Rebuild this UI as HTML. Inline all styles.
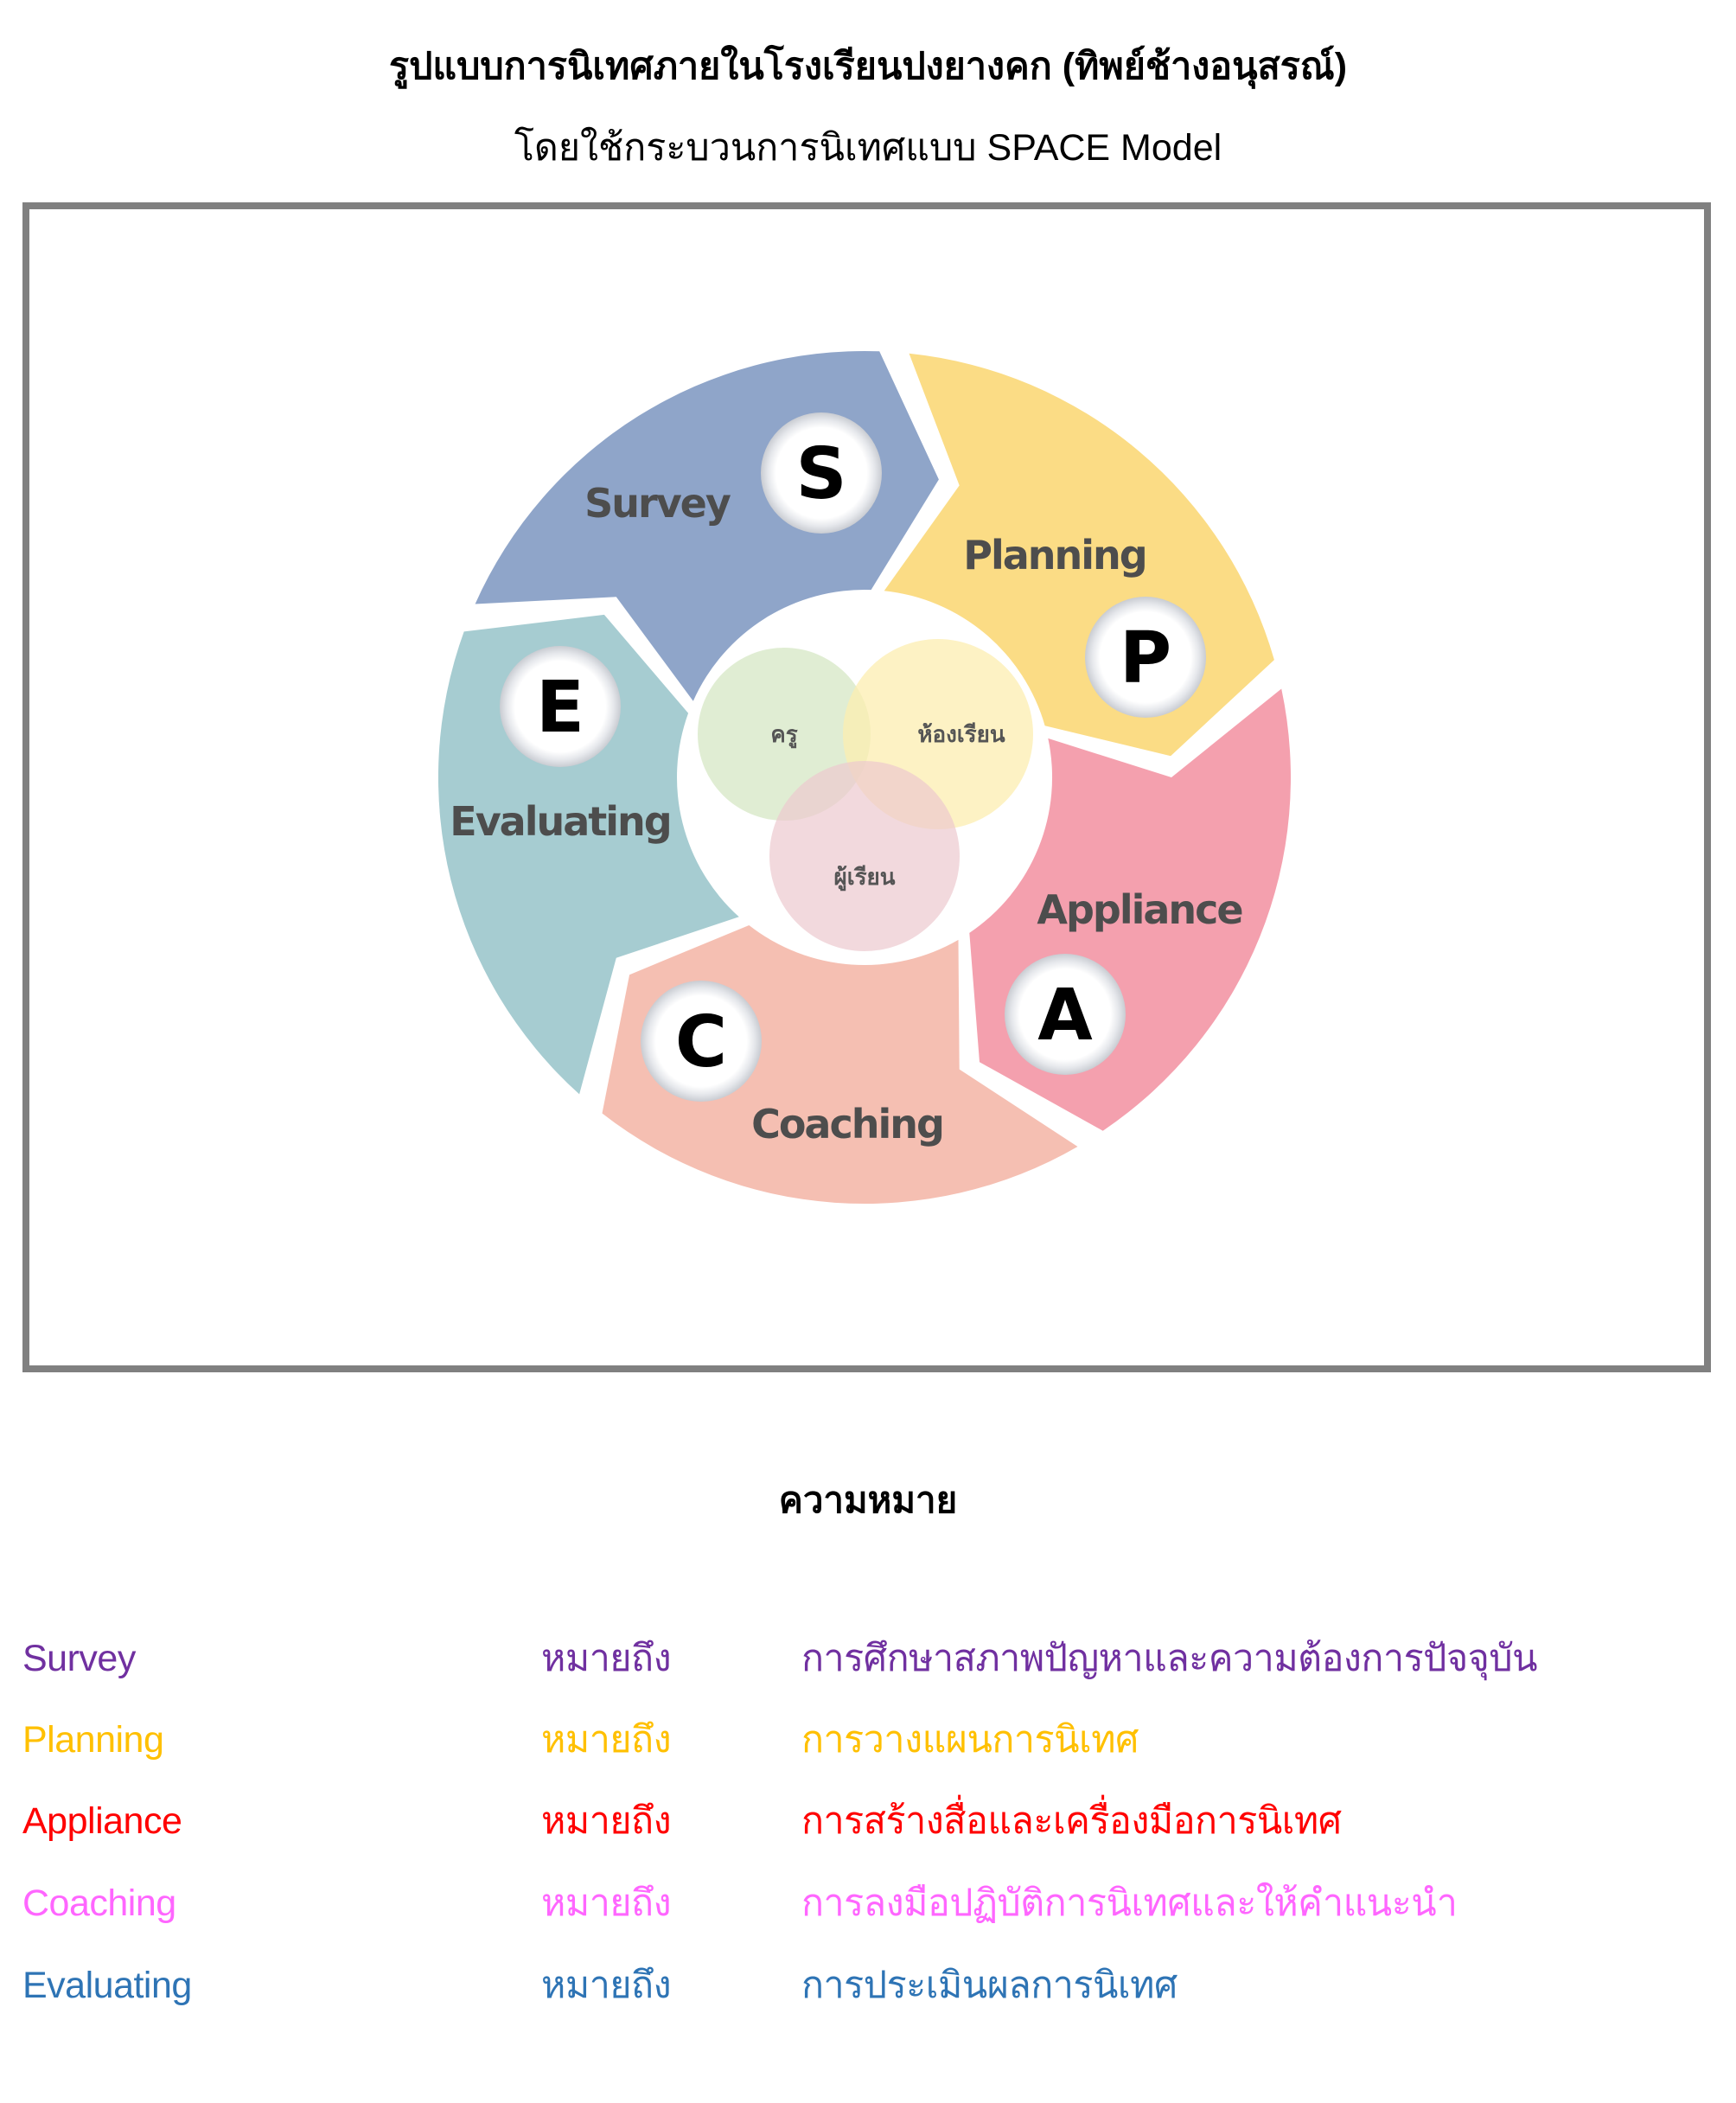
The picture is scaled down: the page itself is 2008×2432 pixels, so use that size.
<!DOCTYPE html>
<html><head><meta charset="utf-8">
<style>
body{margin:0;width:2008px;height:2432px;background:#fff;position:relative;font-family:"Liberation Sans","DejaVu Sans",sans-serif;overflow:hidden}
.t{position:absolute;left:0;width:2008px;text-align:center;color:#000}
.box{position:absolute;left:26px;top:234px;width:1937px;height:1337px;border:8px solid #808080}
.r{position:absolute;font-size:43px;line-height:50px;letter-spacing:-0.5px}
</style></head><body>
<div class="t" style="top:42px;font-size:43px;font-weight:bold">รูปแบบการนิเทศภายในโรงเรียนปงยางคก (ทิพย์ช้างอนุสรณ์)</div>
<div class="t" style="top:136px;font-size:43px">โดยใช้กระบวนการนิเทศแบบ SPACE Model</div>
<div class="box"></div>
<svg style="position:absolute;left:0;top:0" width="2008" height="1640" id="sv">
<defs><radialGradient id="g"><stop offset="0.75" stop-color="#fff"/><stop offset="0.88" stop-color="#e6e8ec"/><stop offset="1" stop-color="#c9ccd2"/></radialGradient></defs>
<g id="segs"></g>
<circle cx="907" cy="849" r="100" fill="#d8e9c8" fill-opacity="0.8"/>
<circle cx="1085" cy="849" r="110" fill="#fcedb0" fill-opacity="0.75"/>
<circle cx="1000" cy="990" r="110" fill="#ecc9cf" fill-opacity="0.7"/>
<g font-family="DejaVu Sans,sans-serif" font-weight="bold" fill="#555" font-size="26" text-anchor="middle">
<text x="907" y="858">ครู</text><text x="1112" y="858">ห้องเรียน</text><text x="1000" y="1023">ผู้เรียน</text>
</g>
<g font-family="DejaVu Sans,sans-serif" font-weight="bold" fill="#4d4d4d" font-size="46" text-anchor="middle" letter-spacing="-2">
<text x="760" y="598">Survey</text><text x="1220" y="658">Planning</text><text x="1318" y="1068">Appliance</text><text x="980" y="1316">Coaching</text><text x="648" y="966">Evaluating</text>
</g>
<g id="lets" font-family="DejaVu Sans,sans-serif" font-weight="bold" font-size="82" text-anchor="middle" fill="#000"></g>
</svg>
<div class="t" style="top:1702px;font-size:42px;font-weight:bold">ความหมาย</div>
<div class="r" style="top:1893px;left:26px;color:#7030A0">Survey</div><div class="r" style="top:1893px;left:626px;color:#7030A0">หมายถึง</div><div class="r" style="top:1893px;left:927px;color:#7030A0">การศึกษาสภาพปัญหาและความต้องการปัจจุบัน</div>
<div class="r" style="top:1987px;left:26px;color:#FFC000">Planning</div><div class="r" style="top:1987px;left:626px;color:#FFC000">หมายถึง</div><div class="r" style="top:1987px;left:927px;color:#FFC000">การวางแผนการนิเทศ</div>
<div class="r" style="top:2081px;left:26px;color:#FF0000">Appliance</div><div class="r" style="top:2081px;left:626px;color:#FF0000">หมายถึง</div><div class="r" style="top:2081px;left:927px;color:#FF0000">การสร้างสื่อและเครื่องมือการนิเทศ</div>
<div class="r" style="top:2176px;left:26px;color:#FF66FF">Coaching</div><div class="r" style="top:2176px;left:626px;color:#FF66FF">หมายถึง</div><div class="r" style="top:2176px;left:927px;color:#FF66FF">การลงมือปฏิบัติการนิเทศและให้คำแนะนำ</div>
<div class="r" style="top:2271px;left:26px;color:#2E74B5">Evaluating</div><div class="r" style="top:2271px;left:626px;color:#2E74B5">หมายถึง</div><div class="r" style="top:2271px;left:927px;color:#2E74B5">การประเมินผลการนิเทศ</div>
<script>
var cx=1000,cy=899,ri=217,ro=493,rm=355,tip=12,gap=4;
function p(a,r){a=a*Math.PI/180;return (cx+r*Math.cos(a)).toFixed(1)+","+(cy+r*Math.sin(a)).toFixed(1);}
var segs=[[200,"#8fa5c9"],[272,"#fbdc85"],[344,"#f4a0ae"],[56,"#f5bfb2"],[128,"#a6ccd1"]];
var h="";
segs.forEach(function(s){var a1=s[0]+gap,a2=s[0]+72;
var d="M"+p(a1,ro)+" A"+ro+","+ro+" 0 0 1 "+p(a2,ro)+" L"+p(a2+tip,rm)+" L"+p(a2,ri)+" A"+ri+","+ri+" 0 0 0 "+p(a1,ri)+" L"+p(a1+tip,rm)+" Z";
h+='<path d="'+d+'" fill="'+s[1]+'"/>';});
document.getElementById("segs").innerHTML=h;
var L=[["S",950,547],["P",1325,760],["A",1232,1173],["C",811,1204],["E",648,817]],g="";
L.forEach(function(l){g+='<circle cx="'+l[1]+'" cy="'+l[2]+'" r="70" fill="url(#g)"/><text x="'+l[1]+'" y="'+(l[2]+29)+'">'+l[0]+'</text>';});
document.getElementById("lets").innerHTML=g;
</script>
</body></html>
